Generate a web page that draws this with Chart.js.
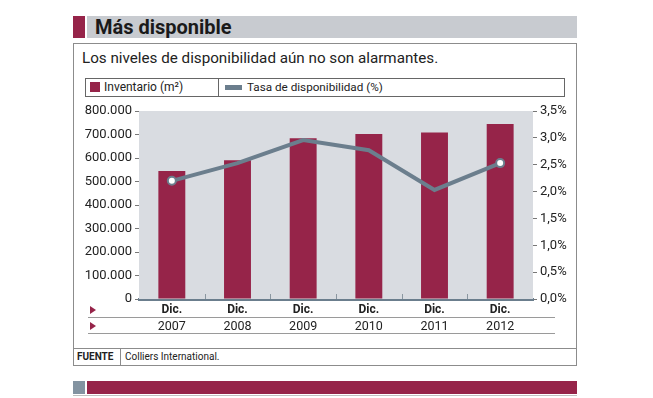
<!DOCTYPE html>
<html>
<head>
<meta charset="utf-8">
<script src="https://cdn.jsdelivr.net/npm/chart.js@4"></script>
<style>
  body { margin: 0; background: #fff; font-family: Roboto, "Liberation Sans", sans-serif; color: #222; }
  .abs { position: absolute; }
  #wrap { position: relative; width: 653px; height: 398px; overflow: hidden; }
</style>
</head>
<body>
<div id="wrap">
  <div class="abs" style="left:73px;top:16px;width:12px;height:22px;background:#962449"></div>
  <div class="abs" style="left:87px;top:16px;width:490px;height:22px;background:#c8cbd0"></div>
  <div class="abs" style="left:95px;top:15px;font-size:20px;font-weight:bold;color:#1a1a1a;line-height:24px">Más disponible</div>

  <div class="abs" style="left:73px;top:43px;width:502px;height:321px;border:1px solid #8c8c8c"></div>
  <div class="abs" style="left:82px;top:49px;font-size:15.2px;color:#222">Los niveles de disponibilidad aún no son alarmantes.</div>

  <div class="abs" style="left:85px;top:78px;width:478px;height:17px;border:1px solid #666"></div>
  <div class="abs" style="left:218px;top:78px;width:1px;height:19px;background:#666"></div>
  <div class="abs" style="left:90px;top:82px;width:10px;height:10px;background:#962449"></div>
  <div class="abs" style="left:104px;top:79px;font-size:12px;line-height:16px">Inventario (m²)</div>
  <div class="abs" style="left:225px;top:85px;width:17px;height:5px;background:#6b7e8d"></div>
  <div class="abs" style="left:247px;top:79px;font-size:11.7px;line-height:16px">Tasa de disponibilidad (%)</div>

  <div class="abs" style="left:88px;top:317px;width:467px;height:1px;background:#9a9a9a"></div>
  <div class="abs" style="left:88px;top:333px;width:467px;height:1px;background:#9a9a9a"></div>
  <div class="abs" style="left:90px;top:306px;width:0;height:0;border-left:6px solid #962449;border-top:4px solid transparent;border-bottom:4px solid transparent"></div>
  <div class="abs" style="left:90px;top:322px;width:0;height:0;border-left:6px solid #962449;border-top:4px solid transparent;border-bottom:4px solid transparent"></div>

  <canvas id="chart" class="abs" style="left:73px;top:100px"></canvas>

  <div class="abs" style="left:74px;top:348px;width:502px;height:1px;background:#8c8c8c"></div>
  <div class="abs" style="left:120px;top:348px;width:1px;height:17px;background:#8c8c8c"></div>
  <div class="abs" style="left:77px;top:350px;font-size:10px;font-weight:bold;line-height:14px">FUENTE</div>
  <div class="abs" style="left:125px;top:350px;font-size:10px;line-height:14px">Colliers International.</div>

  <div class="abs" style="left:73px;top:381px;width:12px;height:13px;background:#8393a1"></div>
  <div class="abs" style="left:87px;top:381px;width:490px;height:13px;background:#962449"></div>
  <div class="abs" style="left:73px;top:395px;width:504px;height:1px;background:#c0c0c0"></div>
</div>

<script>
'use strict';

const years = ['2007', '2008', '2009', '2010', '2011', '2012'];
const monthLabel = 'Dic.';
const inventario = [545000, 590000, 684000, 702000, 709000, 745000];
const tasa = [2.2, 2.53, 2.96, 2.77, 2.03, 2.53];
const markerRadius = [4, 0, 0, 0, 0, 4];

const maroon = '#962449';
const slate = '#6b7e8d';

const canvas = document.querySelector('#chart');
canvas.width = 504;
canvas.height = 236;

// light gray plot background + small marks between categories
const plotDecor = {
    id: 'plotDecor',
    beforeDatasetsDraw(chart) {
        const { ctx, chartArea } = chart;
        ctx.save();
        ctx.fillStyle = '#d9dce1';
        ctx.fillRect(chartArea.left, chartArea.top, chartArea.right - chartArea.left, chartArea.bottom - chartArea.top);
        const x = chart.scales.x;
        ctx.strokeStyle = '#8a96a0';
        ctx.lineWidth = 1;
        for (let i = 0; i < years.length - 1; i++) {
            const px = Math.round((x.getPixelForValue(i) + x.getPixelForValue(i + 1)) / 2) + 0.5;
            ctx.beginPath();
            ctx.moveTo(px, chartArea.bottom - 5);
            ctx.lineTo(px, chartArea.bottom);
            ctx.stroke();
        }
        ctx.restore();
    }
};

const tickFont = { family: 'Roboto, "Liberation Sans", sans-serif', size: 13 };

new Chart(canvas, {
    type: 'bar',
    data: {
        labels: years,
        datasets: [{
            type: 'line',
            label: 'Tasa de disponibilidad (%)',
            data: tasa,
            yAxisID: 'y1',
            xAxisID: 'x',
            borderColor: slate,
            borderWidth: 4,
            tension: 0,
            pointRadius: markerRadius,
            pointBackgroundColor: '#ffffff',
            pointBorderColor: slate,
            pointBorderWidth: 2,
            order: 0
        }, {
            label: 'Inventario (m²)',
            data: inventario,
            yAxisID: 'y',
            xAxisID: 'x',
            backgroundColor: maroon,
            barPercentage: 0.41,
            categoryPercentage: 1,
            order: 1
        }]
    },
    options: {
        responsive: false,
        animation: false,
        layout: { padding: { top: 11, left: 0, right: 0, bottom: 0 } },
        plugins: {
            legend: { display: false },
            tooltip: { enabled: false }
        },
        scales: {
            x: {
                position: 'bottom',
                offset: true,
                grid: { display: false, drawTicks: false, tickLength: 0 },
                border: { display: true, color: slate, width: 3 },
                ticks: {
                    padding: 4,
                    color: '#222',
                    font: { family: tickFont.family, size: 12, weight: 'bold' },
                    callback: () => monthLabel
                },
                afterFit(scale) { scale.height = 19; }
            },
            x2: {
                type: 'category',
                position: 'bottom',
                labels: years,
                offset: true,
                grid: { display: false, drawTicks: false, tickLength: 0 },
                border: { display: false },
                ticks: { padding: 1, color: '#222', font: { family: tickFont.family, size: 12.5 } },
                afterFit(scale) { scale.height = 18; }
            },
            y: {
                position: 'left',
                min: 0,
                max: 800000,
                ticks: {
                    stepSize: 100000,
                    padding: 3,
                    color: '#222',
                    font: tickFont,
                    callback: v => v.toString().replace(/\B(?=(\d{3})+(?!\d))/g, '.')
                },
                grid: { drawOnChartArea: false, drawTicks: true, tickLength: 4, color: '#777' },
                border: { display: false },
                afterFit(scale) { scale.width = 66; }
            },
            y1: {
                position: 'right',
                min: 0,
                max: 3.5,
                ticks: {
                    stepSize: 0.5,
                    padding: 3,
                    color: '#222',
                    font: tickFont,
                    callback: v => v.toFixed(1).replace('.', ',') + '%'
                },
                grid: { drawOnChartArea: false, drawTicks: true, tickLength: 4, color: '#777' },
                border: { display: false },
                afterFit(scale) { scale.width = 44; }
            }
        }
    },
    plugins: [plotDecor]
});
</script>
</body>
</html>
